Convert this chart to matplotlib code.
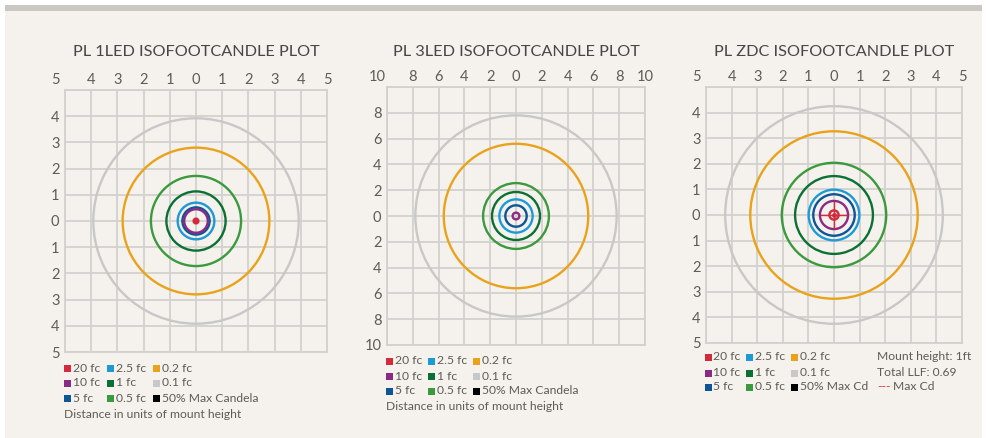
import matplotlib
matplotlib.use("Agg")
import matplotlib.pyplot as plt
from matplotlib.patches import Circle, Rectangle
from matplotlib.transforms import ScaledTranslation

plt.rcParams['font.family'] = ['Lato', 'DejaVu Sans']

# isofootcandle levels, same order everywhere
levels = ["20 fc", "10 fc", "5 fc", "2.5 fc", "1 fc", "0.5 fc", "0.2 fc", "0.1 fc"]
level_colors = ["#d42a3c", "#8b2a82", "#0d5597", "#1c9ad6", "#0a7034",
                "#3b9a3d", "#e9a21a", "#c8c8c8"]

# contour radii (units of mount height)
radii_1led = [0.09, 0.45, 0.52, 0.70, 1.13, 1.72, 2.80, 3.92]
radii_3led = [None, 0.26, 0.83, 1.29, 1.86, 2.55, 5.60, 7.80]
radii_zdc = [0.18, 0.55, 0.81, 0.99, 1.52, 2.04, 3.27, 4.25]

titles = ["PL 1LED ISOFOOTCANDLE PLOT", "PL 3LED ISOFOOTCANDLE PLOT", "PL ZDC ISOFOOTCANDLE PLOT"]
extents = [5, 10, 5]
steps = [1, 2, 1]

W, H = 987, 438
BG = "#f5f2ed"
GRID = "#d3d1ce"
TXT = "#5f5b57"

fig = plt.figure(figsize=(W / 100, H / 100), dpi=100)
fig.patch.set_facecolor("white")


def fx(x):
    return x / W


def fy(y):
    return 1 - y / H


# panel background and top bar (behind the axes)
fig.add_artist(Rectangle((fx(5), 0), fx(977), fy(11), transform=fig.transFigure,
                         facecolor=BG, edgecolor="none", zorder=-2))
fig.add_artist(Rectangle((fx(5), fy(11)), fx(977), 6 / H, transform=fig.transFigure,
                         facecolor="#cbc7c3", edgecolor="none", zorder=-2))

# axes boxes in pixels: left, top, size
boxes = [(65, 90, 262), (387, 87, 258), (706, 87, 256)]
all_radii = [radii_1led, radii_3led, radii_zdc]

for i in range(3):
    left, top, size = boxes[i]
    ax = fig.add_axes([fx(left), fy(top + size), size / W, size / H])
    ax.set_facecolor("none")
    e, s = extents[i], steps[i]
    ax.set_xlim(-e, e)
    ax.set_ylim(-e, e)
    ticks = list(range(-e, e + 1, s))
    ax.set_xticks(ticks)
    ax.set_xticklabels([str(abs(t)) for t in ticks])
    ax.set_yticks(ticks)
    ax.set_yticklabels([str(abs(t)) if t != e else "" for t in ticks])
    ax.xaxis.tick_top()
    ax.tick_params(length=0, labelsize=10.5, labelcolor=TXT, pad=2.5)
    ax.tick_params(axis="y", pad=4)
    ax.grid(True, color=GRID, linewidth=1.3)
    ax.set_axisbelow(True)
    for sp in ax.spines.values():
        sp.set_color(GRID)
        sp.set_linewidth(1.3)
    # first top label sits off the corner
    lab = ax.get_xticklabels()[0]
    lab.set_transform(lab.get_transform() + ScaledTranslation(-10 / 100, 0, fig.dpi_scale_trans))

    for r, c in zip(all_radii[i][::-1], level_colors[::-1]):
        if r is None:
            continue
        ax.add_patch(Circle((0, 0), r, fill=False, edgecolor=c, linewidth=1.7, zorder=3))
    if all_radii[i][0] is not None:
        ax.plot([0], [0], "o", color=level_colors[0], markersize=2.5, zorder=4)
    if i == 2:
        ax.plot([-0.5, 0.5], [0, 0], color=level_colors[0], linewidth=1, zorder=4)
        ax.plot([0, 0], [-0.5, 0.5], color=level_colors[0], linewidth=1, zorder=4)

    fig.text(fx(left + size / 2), fy(52), titles[i], ha="center", va="center",
             fontsize=11.7, color="#4a4645")

# legends
legend_cols = [["20 fc", "10 fc", "5 fc"], ["2.5 fc", "1 fc", "0.5 fc"], ["0.2 fc", "0.1 fc", None]]
last_items = ["50% Max Candela", "50% Max Candela", "50% Max Cd"]
legend_rows = [[368, 383, 398], [361, 376, 391], [357, 373, 387]]
legend_x = [[68, 111, 157], [390, 432, 477], [708, 750, 795]]
note_y = [414, 407, None]


def swatch(x, y, color, label):
    fig.add_artist(Rectangle((fx(x - 3.5), fy(y + 3.5)), 7 / W, 7 / H, transform=fig.transFigure,
                             facecolor=color, edgecolor="none"))
    fig.text(fx(x + 5), fy(y), label, ha="left", va="center", fontsize=8.7, color=TXT)


for i in range(3):
    for ci in range(3):
        for ri in range(3):
            name = legend_cols[ci][ri]
            x, y = legend_x[i][ci], legend_rows[i][ri]
            if name is None:
                swatch(x, y, "black", last_items[i])
            else:
                swatch(x, y, level_colors[levels.index(name)], name)
    if note_y[i] is not None:
        fig.text(fx(legend_x[i][0] - 4), fy(note_y[i]), "Distance in units of mount height",
                 ha="left", va="center", fontsize=8.7, color=TXT)

fig.text(fx(877), fy(357), "Mount height: 1ft", ha="left", va="center", fontsize=8.7, color=TXT)
fig.text(fx(877), fy(373), "Total LLF: 0.69", ha="left", va="center", fontsize=8.7, color=TXT)
fig.text(fx(877), fy(387), "---", ha="left", va="center", fontsize=8.7, color=level_colors[0])
fig.text(fx(893), fy(387), "Max Cd", ha="left", va="center", fontsize=8.7, color=TXT)

fig.savefig("out.png", dpi=100, facecolor=fig.get_facecolor())
